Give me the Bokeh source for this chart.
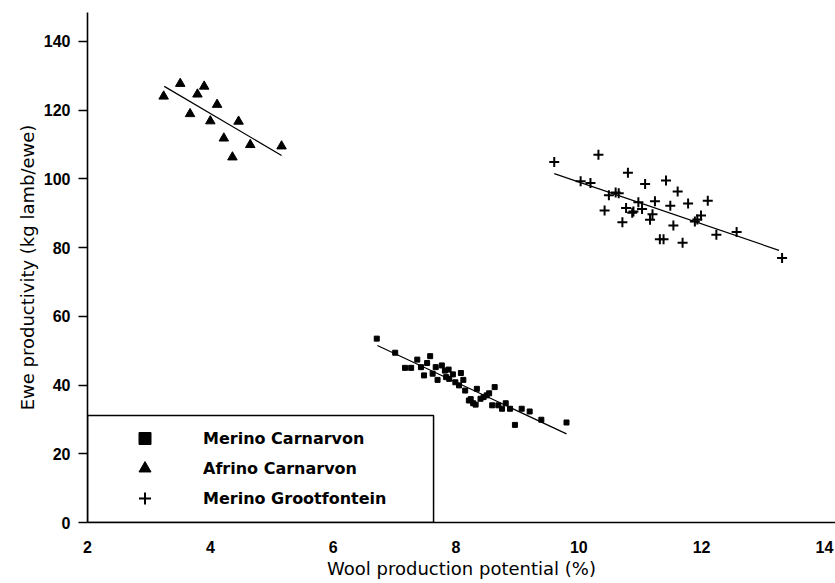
from bokeh.plotting import figure
from bokeh.models import Range1d, FixedTicker, Legend, LegendItem, BoxAnnotation
from bokeh.embed import file_html
from bokeh.resources import INLINE

# ---- data ----
sq_x = [6.71, 7.01, 7.17, 7.27, 7.37, 7.43, 7.53, 7.58, 7.48, 7.62, 7.67, 7.70, 7.77, 7.82,
        7.88, 7.84, 7.89, 7.95, 7.99, 8.08, 8.05, 8.12, 8.15, 8.34, 8.21, 8.24, 8.28, 8.32,
        8.40, 8.45, 8.50, 8.54, 8.63, 8.59, 8.69, 8.75, 8.81, 8.88, 8.96, 9.07, 9.20, 9.39, 9.80]
sq_y = [53.5, 49.4, 45.0, 45.0, 47.4, 45.2, 46.4, 48.4, 42.8, 43.3, 45.2, 41.5, 45.7, 44.2,
        44.5, 42.3, 41.8, 43.1, 40.8, 43.5, 39.9, 41.5, 38.4, 38.9, 35.5, 35.9, 34.7, 34.3,
        36.0, 36.5, 37.0, 37.6, 39.4, 34.1, 34.1, 33.1, 34.7, 33.1, 28.4, 33.1, 32.3, 29.9, 29.1]

tri_x = [3.24, 3.51, 3.90, 3.79, 4.11, 3.67, 4.00, 4.46, 4.22, 4.65, 4.36, 5.16]
tri_y = [124.0, 127.7, 126.9, 124.6, 121.6, 118.9, 116.8, 116.7, 111.8, 109.9, 106.3, 109.5]

plus_x = [9.60, 10.32, 10.80, 10.03, 10.19, 11.08, 11.42, 11.61, 10.49, 10.60, 10.65, 11.24,
          10.97, 11.49, 11.78, 12.10, 10.42, 10.77, 10.89, 10.87, 11.03, 11.20, 11.16, 10.71,
          11.54, 11.89, 11.93, 11.99, 12.24, 12.57, 11.32, 11.38, 11.69, 13.31]
plus_y = [104.9, 107.0, 101.8, 99.3, 98.8, 98.5, 99.5, 96.3, 95.2, 96.0, 95.8, 93.5,
          93.2, 92.2, 92.8, 93.6, 90.8, 91.5, 90.5, 90.1, 91.2, 89.7, 88.1, 87.4,
          86.4, 87.6, 88.2, 89.3, 83.7, 84.5, 82.4, 82.4, 81.4, 77.0]

# fitted lines (end points)
sq_line_x = [6.72, 9.80]
sq_line_y = [51.5, 25.8]
tri_line_x = [3.25, 5.16]
tri_line_y = [126.9, 106.8]
plus_line_x = [9.60, 13.26]
plus_line_y = [101.5, 79.2]

series_names = ["Merino Carnarvon", "Afrino Carnarvon", "Merino Grootfontein"]
x_ticks = [2, 4, 6, 8, 10, 12, 14]
y_ticks = [0, 20, 40, 60, 80, 100, 120, 140]

# legend frame extent (data units)
legend_box_right = 7.635
legend_box_top = 31.1

TICK_FONT = "Liberation Sans"
FONT = "DejaVu Sans"

p = figure(width=835, height=583, output_backend="svg", toolbar_location=None,
           x_range=Range1d(2, 14.18), y_range=Range1d(0, 148.4),
           min_border_left=87, min_border_right=0, min_border_top=12, min_border_bottom=61)
p.outline_line_color = None
p.grid.visible = False
p.background_fill_color = "white"

# axes
p.xaxis.ticker = FixedTicker(ticks=x_ticks)
p.yaxis.ticker = FixedTicker(ticks=y_ticks)
for ax in (p.xaxis[0], p.yaxis[0]):
    ax.axis_line_color = "black"
    ax.axis_line_width = 1.6
    ax.minor_tick_line_color = None
    ax.major_label_text_font = TICK_FONT
    ax.major_label_text_font_style = "bold"
    ax.major_label_text_font_size = "16px"
    ax.major_label_text_color = "black"
    ax.axis_label_text_font = FONT
    ax.axis_label_text_font_style = "normal"
    ax.axis_label_text_font_size = "18px"
    ax.axis_label_text_color = "black"

p.xaxis.major_tick_line_color = None
p.xaxis.major_tick_out = 0
p.xaxis.major_tick_in = 0
p.xaxis.major_label_standoff = 18
p.xaxis.axis_label = "Wool production potential (%)"
p.xaxis.axis_label_standoff = 2

p.yaxis.major_tick_line_color = "black"
p.yaxis.major_tick_line_width = 1.4
p.yaxis.major_tick_out = 9
p.yaxis.major_tick_in = 0
p.yaxis.major_label_standoff = 8
p.yaxis.axis_label = "Ewe productivity (kg lamb/ewe)"
p.yaxis.axis_label_standoff = 3

# regression lines
p.line(sq_line_x, sq_line_y, line_color="black", line_width=1.2)
p.line(tri_line_x, tri_line_y, line_color="black", line_width=1.2)
p.line(plus_line_x, plus_line_y, line_color="black", line_width=1.2)

# points
r_sq = p.scatter(sq_x, sq_y, marker="square", size=5, fill_color="black", line_color="black")
r_tri = p.scatter(tri_x, tri_y, marker="triangle", size=9.5, fill_color="black", line_color="black")
r_plus = p.scatter(plus_x, plus_y, marker="cross", size=10, line_color="black", line_width=2)

# legend frame
box = BoxAnnotation(left=2, right=legend_box_right, bottom=0, top=legend_box_top,
                    fill_color=None, fill_alpha=0, line_color="black", line_alpha=1,
                    line_width=1.5)
p.add_layout(box)

legend = Legend(items=[LegendItem(label=series_names[0], renderers=[r_sq]),
                       LegendItem(label=series_names[1], renderers=[r_tri]),
                       LegendItem(label=series_names[2], renderers=[r_plus])],
                location=(42, 9), margin=0, padding=0, spacing=0,
                glyph_width=31, glyph_height=30, label_height=30, label_standoff=43,
                border_line_color=None, background_fill_alpha=0,
                label_text_font=FONT, label_text_font_style="bold",
                label_text_font_size="16px", label_text_color="black")
p.add_layout(legend, "center")

open("out.html", "w").write(file_html(p, INLINE))
